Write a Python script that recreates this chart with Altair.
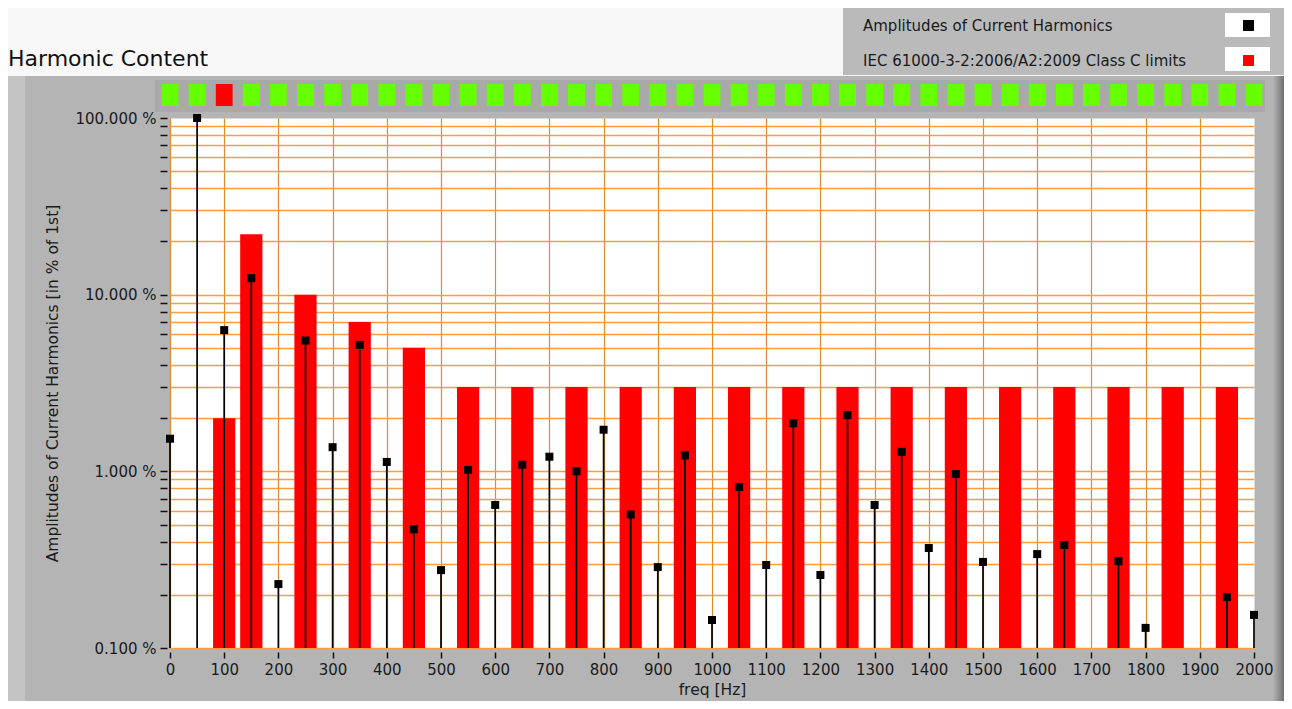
import altair as alt
import pandas as pd

# ---- data ----
freqs = list(range(0, 2001, 50))
amplitudes = [1.53, 100, 6.3, 12.4, 0.23, 5.5, 1.37, 5.2, 1.13, 0.47, 0.276,
              1.02, 0.645, 1.09, 1.21, 1.0, 1.72, 0.57, 0.287, 1.23, 0.144,
              0.815, 0.295, 1.87, 0.259, 2.08, 0.645, 1.29, 0.368, 0.966, 0.307,
              None, 0.34, 0.383, None, 0.31, 0.13, None, None, 0.194, 0.154]
limit_freqs = [100, 150, 250, 350, 450] + list(range(550, 2000, 100))
limit_values = [2, 22, 10, 7, 5] + [3] * 15
x_ticks = list(range(0, 2001, 100))
y_ticks = [round(k * 10 ** e, 3) for e in (-1, 0, 1) for k in range(1, 10)] + [100]

AMP = "Amplitudes of Current Harmonics"
LIM = "IEC 61000-3-2:2006/A2:2009 Class C limits"
FONT = "DejaVu Sans"

amp_df = pd.DataFrame({"freq": freqs, "amp": amplitudes, "series": AMP}).dropna()
lim_df = pd.DataFrame({"freq": limit_freqs, "limit": limit_values, "series": LIM})
lim_map = dict(zip(limit_freqs, limit_values))
ind_df = pd.DataFrame({
    "freq": freqs,
    "exceed": [bool(a is not None and f in lim_map and a > lim_map[f])
               for f, a in zip(freqs, amplitudes)],
})

W, H = 1084, 530
PL, PT, PR, PB = 162, 110, 30, 53

xscale = alt.Scale(domain=[0, 2000], nice=False)
yscale = alt.Scale(type="log", domain=[0.1, 100], nice=False)

xaxis = alt.Axis(values=x_ticks, format="d", title="freq [Hz]", grid=True,
                 gridColor={"condition": {"test": "datum.value >= 2000", "value": "transparent"},
                            "value": "#e3892c"},
                 gridWidth=1.2, domain=False,
                 tickColor="#111111", tickSize=6, tickWidth=1.5, offset=4,
                 labelFont=FONT, labelFontSize=15, labelColor="#1a1a1a",
                 labelPadding=4, labelFlush=False, labelOverlap=False,
                 titleFont=FONT, titleFontSize=15.5, titleFontWeight="normal",
                 titleColor="#1a1a1a", titlePadding=5)
yaxis = alt.Axis(values=y_ticks, title="Amplitudes of Current Harmonics [in % of 1st]",
                 labelExpr="(datum.value == 0.1 || datum.value == 1 || datum.value == 10 || datum.value == 100) ? format(datum.value, '.3f') + ' %' : ''",
                 grid=True,
                 gridColor={"condition": {"test": "datum.value >= 100", "value": "transparent"},
                            "value": "#ff9c42"},
                 gridWidth=1.6, domain=False,
                 tickColor="#111111", tickSize=7, tickWidth=1.5, offset=3,
                 labelFont=FONT, labelFontSize=15, labelColor="#1a1a1a",
                 labelPadding=4, labelOverlap=False,
                 titleFont=FONT, titleFontSize=15.5, titleFontWeight="normal",
                 titleColor="#1a1a1a", titlePadding=14)

color = alt.Color("series:N", scale=alt.Scale(domain=[AMP, LIM], range=["#000000", "#ff0000"]),
                  legend=alt.Legend(orient="none", legendX=1071, legendY=-100, title=None,
                                    symbolType="square", symbolSize=120, symbolStrokeWidth=0,
                                    labelFont=FONT, labelFontSize=15, labelColor="#1a1a1a",
                                    labelAlign="left", labelOffset=alt.ExprRef(expr="-393"),
                                    rowPadding=19, padding=0, labelLimit=400))

one = pd.DataFrame({"k": [0]})


def deco(x1, x2, y1, y2, fill):
    return alt.Chart(one).mark_rect(color=fill).encode(
        x=alt.value(x1), x2=alt.value(x2), y=alt.value(y1), y2=alt.value(y2))


grad = alt.Gradient(gradient="linear",
                    stops=[alt.GradientStop(color="#b4b4b4", offset=0),
                           alt.GradientStop(color="#707070", offset=1)],
                    x1=0, x2=1, y1=0, y2=0)

decos = [
    deco(-PL, W + PR, -PT, -42, "#f8f8f8"),
    deco(-PL, -145, -42, H + PB, "#c4c4c4"),
    alt.Chart(one).mark_rect(color=grad).encode(
        x=alt.value(1103), x2=alt.value(W + PR), y=alt.value(-42), y2=alt.value(H + PB)),
    deco(-15, 1095, -38, -6, "#a9a9a9"),
    deco(673, W + PR, -110, -43, "#bababa"),
    deco(1055, 1100, -105, -81, "#ffffff"),
    deco(1055, 1100, -71, -47, "#ffffff"),
]

indicators = alt.Chart(ind_df).transform_calculate(
    x0="datum.freq - 15.5", x1="datum.freq + 15.5"
).mark_rect().encode(
    x=alt.X("x0:Q", scale=xscale, axis=xaxis),
    x2="x1:Q",
    y=alt.value(-34), y2=alt.value(-12),
    color=alt.condition("datum.exceed", alt.value("#ff0000"), alt.value("#66ff00")),
)

bars = alt.Chart(lim_df).transform_calculate(
    x0="datum.freq - 20.5", x1="datum.freq + 20.5"
).mark_rect().encode(
    x=alt.X("x0:Q", scale=xscale, axis=xaxis),
    x2="x1:Q",
    y=alt.Y("limit:Q", scale=yscale, axis=yaxis),
    y2=alt.datum(0.1),
    color=color,
)

stems = alt.Chart(amp_df).mark_rule(color="#000000", strokeWidth=1.7).encode(
    x=alt.X("freq:Q", scale=xscale, axis=xaxis),
    y=alt.Y("amp:Q", scale=yscale, axis=yaxis),
    y2=alt.datum(0.1),
)

points = alt.Chart(amp_df).mark_square(size=64, opacity=1).encode(
    x=alt.X("freq:Q", scale=xscale, axis=xaxis),
    y=alt.Y("amp:Q", scale=yscale, axis=yaxis),
    color=color,
)

chart = alt.layer(*decos, indicators, bars, stems, points).properties(
    width=W, height=H,
    autosize=alt.AutoSizeParams(type="none"),
    padding={"left": PL, "top": PT, "right": PR, "bottom": PB},
    background="#b4b4b4",
    title=alt.TitleParams("Harmonic Content", anchor="start", frame="group",
                          dx=-PL, dy=80, offset=0, baseline="alphabetic",
                          font=FONT, fontSize=22, fontWeight="normal", color="#111111"),
).configure_view(fill="#ffffff", stroke="transparent")

chart.save("out.html", embed_options={"renderer": "svg", "actions": False})
